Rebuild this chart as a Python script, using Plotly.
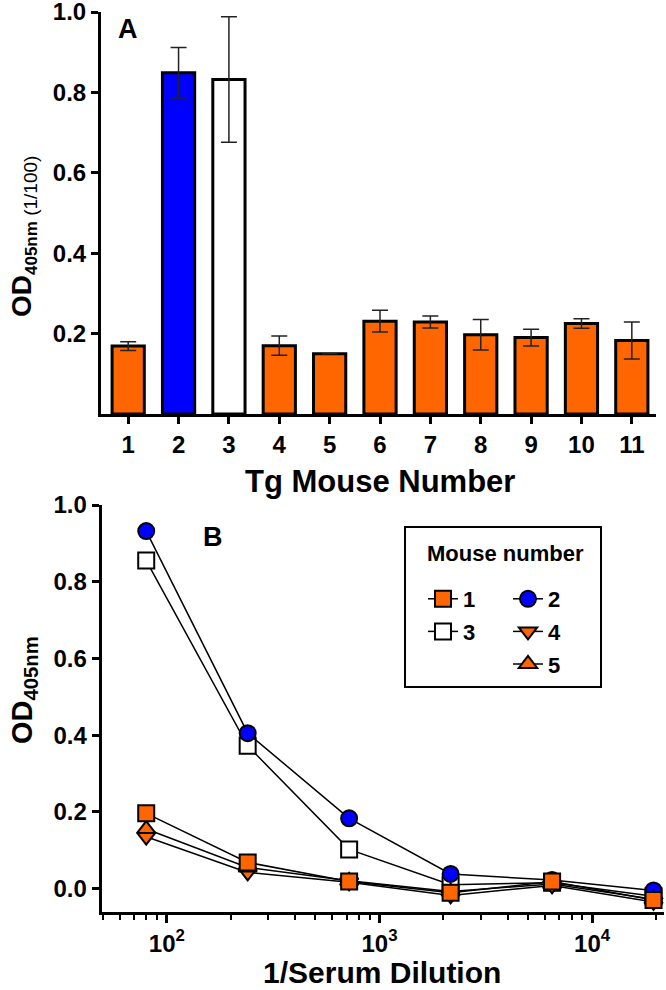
import math
import plotly.graph_objects as go

# ---------------- data ----------------
mouse_ids = [1, 2, 3, 4, 5, 6, 7, 8, 9, 10, 11]
od_mean = [0.169, 0.849, 0.832, 0.170, 0.150, 0.231, 0.229, 0.197, 0.190, 0.225, 0.183]
od_err = [0.011, 0.063, 0.156, 0.024, 0.0, 0.027, 0.015, 0.038, 0.021, 0.012, 0.046]
bar_colors = ["#FF6600", "#0000FF", "#FFFFFF", "#FF6600", "#FF6600", "#FF6600",
              "#FF6600", "#FF6600", "#FF6600", "#FF6600", "#FF6600"]

dilution = [80, 240, 720, 2160, 6480, 19440]
mouse1 = [0.196, 0.068, 0.018, -0.011, 0.018, -0.030]
mouse2 = [0.932, 0.405, 0.183, 0.038, 0.022, -0.005]
mouse3 = [0.855, 0.372, 0.102, 0.010, 0.015, -0.020]
mouse4 = [0.135, 0.042, 0.016, -0.018, 0.008, -0.035]
mouse5 = [0.155, 0.055, 0.020, -0.008, 0.012, -0.028]

y_ticks_a = [0.2, 0.4, 0.6, 0.8, 1.0]
y_ticks_b = [0.0, 0.2, 0.4, 0.6, 0.8, 1.0]
x_ticks_b = [100, 1000, 10000]
x_ticklabels_b = ["10<sup>2</sup>", "10<sup>3</sup>", "10<sup>4</sup>"]

# ---------------- layout helpers ----------------
W, H = 666, 990
ORANGE = "#FF6600"
BLUE = "#0000FF"
FONT = "Liberation Sans, Arial, sans-serif"


def px_x(p):
    return p / W


def px_y(p):
    return 1 - p / H


fig = go.Figure()

# Panel A bars
fig.add_trace(go.Bar(
    x=mouse_ids, y=od_mean, width=0.64,
    marker=dict(color=bar_colors, line=dict(color="black", width=3)),
    error_y=dict(type="data", array=od_err, visible=True, color="#222222",
                 thickness=1.5, width=8),
    xaxis="x", yaxis="y", showlegend=False,
))

# Panel B lines (drawing order so orange square ends on top)
series = [
    ("3", mouse3, "square", "#FFFFFF", "legend", 2),
    ("2", mouse2, "circle", BLUE, "legend2", 1),
    ("4", mouse4, "triangle-down", ORANGE, "legend2", 2),
    ("5", mouse5, "triangle-up", ORANGE, "legend2", 3),
    ("1", mouse1, "square", ORANGE, "legend", 1),
]
for name, vals, sym, col, leg, rank in series:
    fig.add_trace(go.Scatter(
        x=dilution, y=vals, name=name, mode="lines+markers",
        line=dict(color="black", width=1.5),
        marker=dict(symbol=sym, size=16, color=col,
                    line=dict(color="black", width=2)),
        xaxis="x2", yaxis="y2", legend=leg, legendrank=rank,
        legendgroup=name, cliponaxis=False,
    ))

# minor ticks for log axis
minor_vals = []
for d in range(1, 5):
    for k in range(2, 10):
        v = k * 10 ** d
        if 49 <= v <= 21700:
            minor_vals.append(v)

axis_common = dict(
    showline=True, linecolor="black", linewidth=3, ticks="outside",
    tickwidth=3, tickcolor="black", ticklen=7, showgrid=False, zeroline=False,
    automargin=False, ticklabeloverflow="allow",
    tickfont=dict(family=FONT, size=24, color="black", weight="bold"),
)

fig.update_layout(
    width=W, height=H,
    margin=dict(l=0, r=0, t=0, b=0, autoexpand=False),
    paper_bgcolor="white", plot_bgcolor="white",
    xaxis=dict(domain=[px_x(101), px_x(656)], range=[0.46, 11.48],
               tickvals=mouse_ids, anchor="y", **axis_common),
    yaxis=dict(domain=[px_y(414), px_y(12)], range=[0, 1.0],
               tickvals=y_ticks_a, tickformat=".1f", anchor="x", **axis_common),
    xaxis2=dict(domain=[px_x(101.7), px_x(664)], type="log",
                range=[math.log10(49.4), 4.338],
                tickvals=x_ticks_b, ticktext=x_ticklabels_b, anchor="y2",
                minor=dict(tickvals=minor_vals, ticks="outside", ticklen=5,
                           tickwidth=2, tickcolor="black"),
                **{**axis_common, "ticklen": 8}),
    yaxis2=dict(domain=[px_y(911.7), px_y(505)], range=[-0.0605, 1.0],
                tickvals=y_ticks_b, tickformat=".1f", anchor="x2", **axis_common),
    legend=dict(x=px_x(423), y=px_y(578), xanchor="left", yanchor="top",
                bgcolor="rgba(0,0,0,0)", borderwidth=0, tracegroupgap=1,
                traceorder="grouped",
                font=dict(family=FONT, size=22, color="black", weight="bold")),
    legend2=dict(x=px_x(508), y=px_y(578), xanchor="left", yanchor="top",
                 bgcolor="rgba(0,0,0,0)", borderwidth=0, tracegroupgap=1,
                 traceorder="grouped",
                 font=dict(family=FONT, size=22, color="black", weight="bold")),
)

# legend box
fig.add_shape(type="rect", xref="paper", yref="paper",
              x0=px_x(405), x1=px_x(601), y0=px_y(687), y1=px_y(527),
              line=dict(color="black", width=2), fillcolor="rgba(0,0,0,0)")

ann_font = dict(family=FONT, color="black")
annotations = [
    dict(text="<b>A</b>", x=px_x(128), y=px_y(29), size=27),
    dict(text="<b>B</b>", x=px_x(213), y=px_y(537), size=27),
    dict(text="<b>Mouse number</b>", x=px_x(505.5), y=px_y(553.5), size=22),
    dict(text="<b>Tg Mouse Number</b>", x=px_x(380), y=px_y(481), size=31),
    dict(text="<b>1/Serum Dilution</b>", x=px_x(382), y=px_y(972), size=30),
]
for a in annotations:
    fig.add_annotation(text=a["text"], x=a["x"], y=a["y"], xref="paper",
                       yref="paper", showarrow=False, xanchor="center",
                       yanchor="middle", font=dict(size=a["size"], **ann_font))

fig.add_annotation(
    text=("<b>OD</b><sub><b><span style='font-size:17px'>405nm</span></b>"
          "<span style='font-size:19px'> (1/100)</span></sub>"),
    x=px_x(23), y=px_y(237), xref="paper", yref="paper",
    showarrow=False, textangle=-90, xanchor="center",
    yanchor="middle", font=dict(size=28, **ann_font))
fig.add_annotation(text="<b>OD</b><sub><b>405nm</b></sub>",
                   x=px_x(24), y=px_y(690), xref="paper", yref="paper",
                   showarrow=False, textangle=-90, xanchor="center",
                   yanchor="middle", font=dict(size=29, **ann_font))

fig.write_html("out.html",
               config={"displayModeBar": False},
               post_script="document.body.style.margin='0';")
